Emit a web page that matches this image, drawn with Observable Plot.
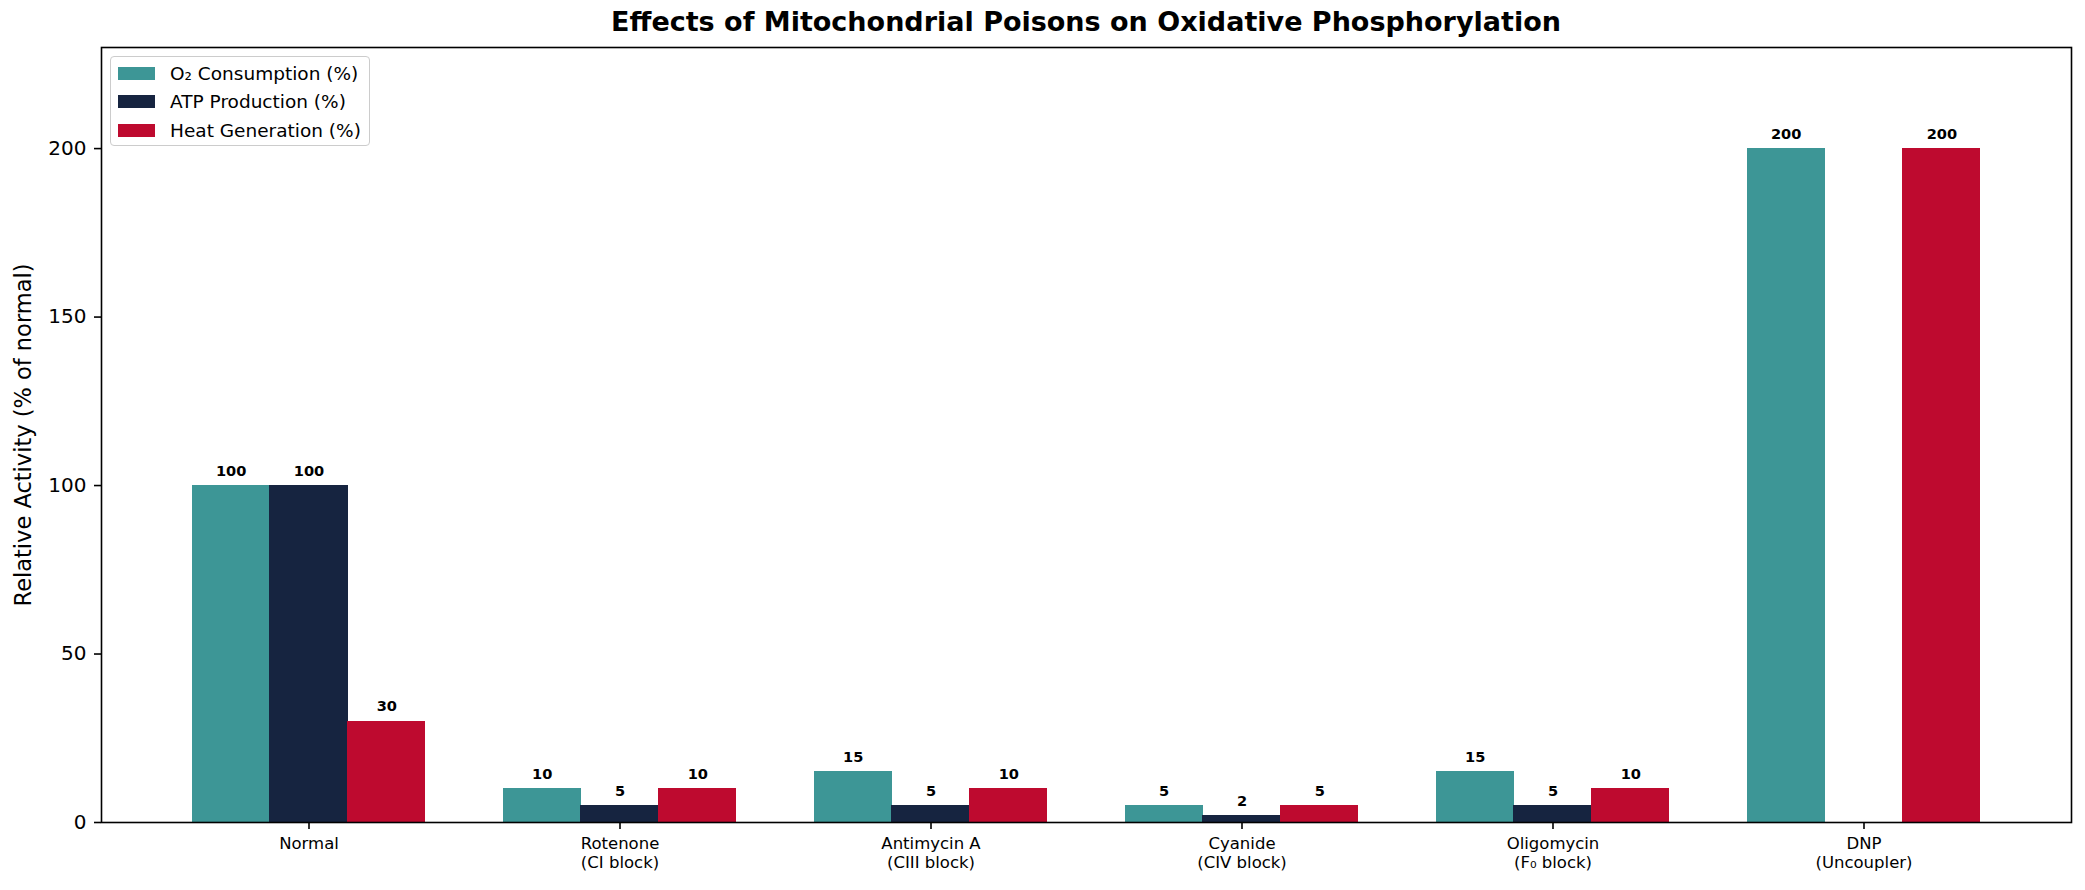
<!DOCTYPE html>
<html><head><meta charset="utf-8">
<script src="https://cdn.jsdelivr.net/npm/d3@7"></script>
<script src="https://cdn.jsdelivr.net/npm/@observablehq/plot@0.6"></script>
<style>
body{margin:0;background:#fff;font-family:"DejaVu Sans",sans-serif;}
#wrap{position:relative;width:2085px;height:890px;}
#title{position:absolute;left:101px;width:1970px;top:7px;text-align:center;font-weight:bold;font-size:27px;line-height:30px;color:#000;white-space:nowrap;}
#legend{position:absolute;left:110px;top:56px;width:260px;height:90px;border:1.5px solid #cccccc;border-radius:4px;background:rgba(255,255,255,0.8);box-sizing:border-box;}
.row{position:absolute;left:7px;height:14px;display:flex;align-items:center;}
.sw{width:37px;height:13px;margin-right:15px;}
.lb{font-size:18.5px;white-space:nowrap;color:#000;}
</style>
</head><body>
<div id="wrap"><div id="chart"></div><div id="title"></div><div id="legend"></div></div>
<script>
const title = "Effects of Mitochondrial Poisons on Oxidative Phosphorylation";
const yLabel = "Relative Activity (% of normal)";
const categories = ["Normal","Rotenone\n(CI block)","Antimycin A\n(CIII block)","Cyanide\n(CIV block)","Oligomycin\n(F₀ block)","DNP\n(Uncoupler)"];
const seriesNames = ["O₂ Consumption (%)","ATP Production (%)","Heat Generation (%)"];
const o2Values = [100,10,15,5,15,200];
const atpValues = [100,5,5,2,5,0];
const heatValues = [30,10,10,5,10,200];
const seriesColors = ["#3d9696","#162440","#be0a2f"];
const yTicks = [0,50,100,150,200];
const yMax = 230;

const W = 2085, H = 890;
const mL = 101, mR = 14, mT = 47, mB = 68;
const plotW = W - mL - mR;
const step = plotW / (categories.length - 0.25 + 2*0.2875);
const bw = step * 0.25;

const seriesValues = [o2Values, atpValues, heatValues];
const rows = [];
seriesValues.forEach((vals, si) => vals.forEach((v, ci) => rows.push({cat: categories[ci], si, value: v})));

const marks = [];
seriesValues.forEach((vals, si) => {
  const data = rows.filter(d => d.si === si);
  marks.push(Plot.barY(data, {x: "cat", y: "value", fill: seriesColors[si], insetLeft: si*bw - (si>0?0.5:0), insetRight: (2-si)*bw - (si<2?0.5:0), shapeRendering: "crispEdges"}));
});
seriesValues.forEach((vals, si) => {
  const data = rows.filter(d => d.si === si && d.value > 0);
  marks.push(Plot.text(data, {x: "cat", y: "value", text: d => String(d.value), dx: (si-1)*bw, dy: -10, lineAnchor: "bottom", fontWeight: "bold", fontSize: 14.6, fill: "#000"}));
});

const chart = Plot.plot({
  width: W, height: H,
  marginLeft: mL, marginRight: mR, marginTop: mT, marginBottom: mB,
  style: {fontFamily: "DejaVu Sans, sans-serif", background: "#fff", color: "#000"},
  x: {type: "band", domain: categories, paddingInner: 0.25, paddingOuter: 0.2875, align: 0.5},
  y: {domain: [0, yMax]},
  marks: [
    ...marks,
    Plot.axisX({tickSize: 7, tickPadding: 5, fontSize: 16.5, lineHeight: 1.2, label: null, strokeWidth: 1.6, stroke: "#000"}),
    Plot.axisY({ticks: yTicks, tickSize: 7, tickPadding: 8, fontSize: 20, label: null, strokeWidth: 1.6, stroke: "#000"}),
    Plot.text([yLabel], {frameAnchor: "left", textAnchor: "middle", rotate: -90, dx: -78, fontSize: 22.5, fill: "#000"}),
    Plot.frame({stroke: "#000", strokeWidth: 1.6})
  ]
});
document.getElementById("chart").appendChild(chart);
document.getElementById("title").textContent = title;

const legend = document.getElementById("legend");
seriesNames.forEach((name, i) => {
  const r = document.createElement("div");
  r.className = "row";
  r.style.top = (9 + i*28.7) + "px";
  r.innerHTML = `<div class="sw" style="background:${seriesColors[i]}"></div><div class="lb">${name}</div>`;
  legend.appendChild(r);
});
</script>
</body></html>
